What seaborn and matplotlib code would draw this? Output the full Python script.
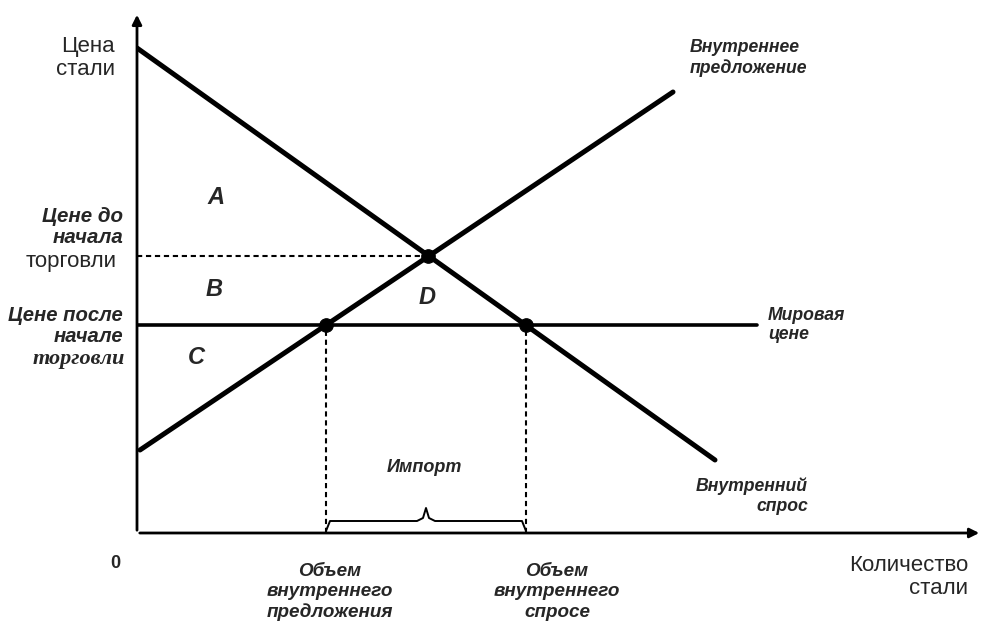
import numpy as np
import pandas as pd
import matplotlib
matplotlib.use("Agg")
import matplotlib.pyplot as plt
import seaborn as sns

# supply / demand lines (quantity, price) in chart units
supply_q = [3, 536]
supply_p = [83, 441]
demand_q = [0, 578]
demand_p = [485, 73]
world_price = 208
world_q_end = 620
pre_trade_price = 277
eq_q = 291
qs_world = 189
qd_world = 389
area_labels = ['A', 'B', 'C', 'D']
area_q = [79, 77, 59, 290]
area_p = [335, 243, 175, 235]

sns.set_style("white")
plt.rcParams['font.family'] = ['Liberation Sans', 'DejaVu Sans']

fig = plt.figure(figsize=(9.9, 6.28), dpi=100)
ax = fig.add_axes([137/990, (628-533)/628, (982-137)/990, (533-12)/628])
ax.set_xlim(0, 845)
ax.set_ylim(0, 521)
for s in ax.spines.values():
    s.set_visible(False)
ax.set_xticks([]); ax.set_yticks([])

# axes with arrows
ax.annotate('', xy=(0, 521), xytext=(0, 0),
            arrowprops=dict(arrowstyle='-|>', lw=2, color='black', mutation_scale=14), annotation_clip=False)
ax.annotate('', xy=(845, 0), xytext=(0, 0),
            arrowprops=dict(arrowstyle='-|>', lw=2, color='black', mutation_scale=14), annotation_clip=False)

sup = pd.DataFrame({'q': supply_q, 'p': supply_p})
dem = pd.DataFrame({'q': demand_q, 'p': demand_p})
sns.lineplot(data=sup, x='q', y='p', ax=ax, color='black', lw=3.6)
sns.lineplot(data=dem, x='q', y='p', ax=ax, color='black', lw=3.6)
ax.plot([0, world_q_end], [world_price, world_price], color='black', lw=2.6)

# dashed guides
ax.plot([0, eq_q], [pre_trade_price, pre_trade_price], color='black', lw=1.5, ls=(0, (2.5, 1.8)))
ax.plot([qs_world, qs_world], [0, world_price], color='black', lw=1.5, ls=(0, (2.5, 1.8)))
ax.plot([qd_world, qd_world], [0, world_price], color='black', lw=1.5, ls=(0, (2.5, 1.8)))

pts = pd.DataFrame({'q': [eq_q, qs_world, qd_world],
                    'p': [pre_trade_price, world_price, world_price]})
sns.scatterplot(data=pts, x='q', y='p', ax=ax, color='black', s=95, zorder=5, edgecolor='black')
ax.set_xlabel(''); ax.set_ylabel('')

# import brace
mid = (qs_world + qd_world) / 2
bx = [qs_world, qs_world + 4, mid - 9, mid - 3, mid, mid + 3, mid + 9, qd_world - 4, qd_world]
by = [2, 12, 12, 15, 25, 15, 12, 12, 2]
ax.plot(bx, by, color='black', lw=1.4)
ax.text(mid - 2, 65, 'Импорт', ha='center', va='center', fontsize=13,
        fontweight='bold', fontstyle='italic')

for lab, q, p in zip(area_labels, area_q, area_p):
    ax.text(q, p, lab, ha='center', va='center', fontsize=17, fontweight='bold', fontstyle='italic')

# curve labels
bi = dict(fontsize=12.7, fontweight='bold', fontstyle='italic', linespacing=1.2)
ax.text(553, 475, 'Внутреннее\nпредложение', ha='left', va='center', **bi)
ax.text(631, 208, 'Мировая\nцене', ha='left', va='center', **bi)
ax.text(671, 37, 'Внутренний\nспрос', ha='right', va='center', multialignment='right', **bi)

# left labels
fig.text(115/990, 1 - 58/628, 'Цена\nстали', ha='right', va='center', fontsize=16,
         multialignment='right', linespacing=1.15)
fig.text(123/990, 1 - 227/628, 'Цене до\nначала', ha='right', va='center', fontsize=14.8,
         fontweight='bold', fontstyle='italic', multialignment='right', linespacing=1.1)
fig.text(117/990, 1 - 262/628, 'торговли', ha='right', va='center', fontsize=16)
fig.text(123/990, 1 - 326/628, 'Цене после\nначале', ha='right', va='center', fontsize=14.6,
         fontweight='bold', fontstyle='italic', multialignment='right', linespacing=1.1)
fig.text(125/990, 1 - 359/628, 'торговли', ha='right', va='center', fontsize=16,
         fontweight='bold', fontstyle='italic', family=['Liberation Serif', 'DejaVu Serif'])

# bottom labels
fig.text(115/990, 1 - 563/628, '0', ha='center', va='center', fontsize=13, fontweight='bold')
fig.text(330/990, 1 - 592/628, 'Объем\nвнутреннего\nпредложения', ha='center', va='center',
         fontsize=13.6, fontweight='bold', fontstyle='italic', linespacing=1.25)
fig.text(557/990, 1 - 592/628, 'Объем\nвнутреннего\nспросе', ha='center', va='center',
         fontsize=13.6, fontweight='bold', fontstyle='italic', linespacing=1.25)
fig.text(968/990, 1 - 577/628, 'Количество\nстали', ha='right', va='center', fontsize=16,
         multialignment='right', linespacing=1.15)

fig.savefig('out.png', dpi=100)
